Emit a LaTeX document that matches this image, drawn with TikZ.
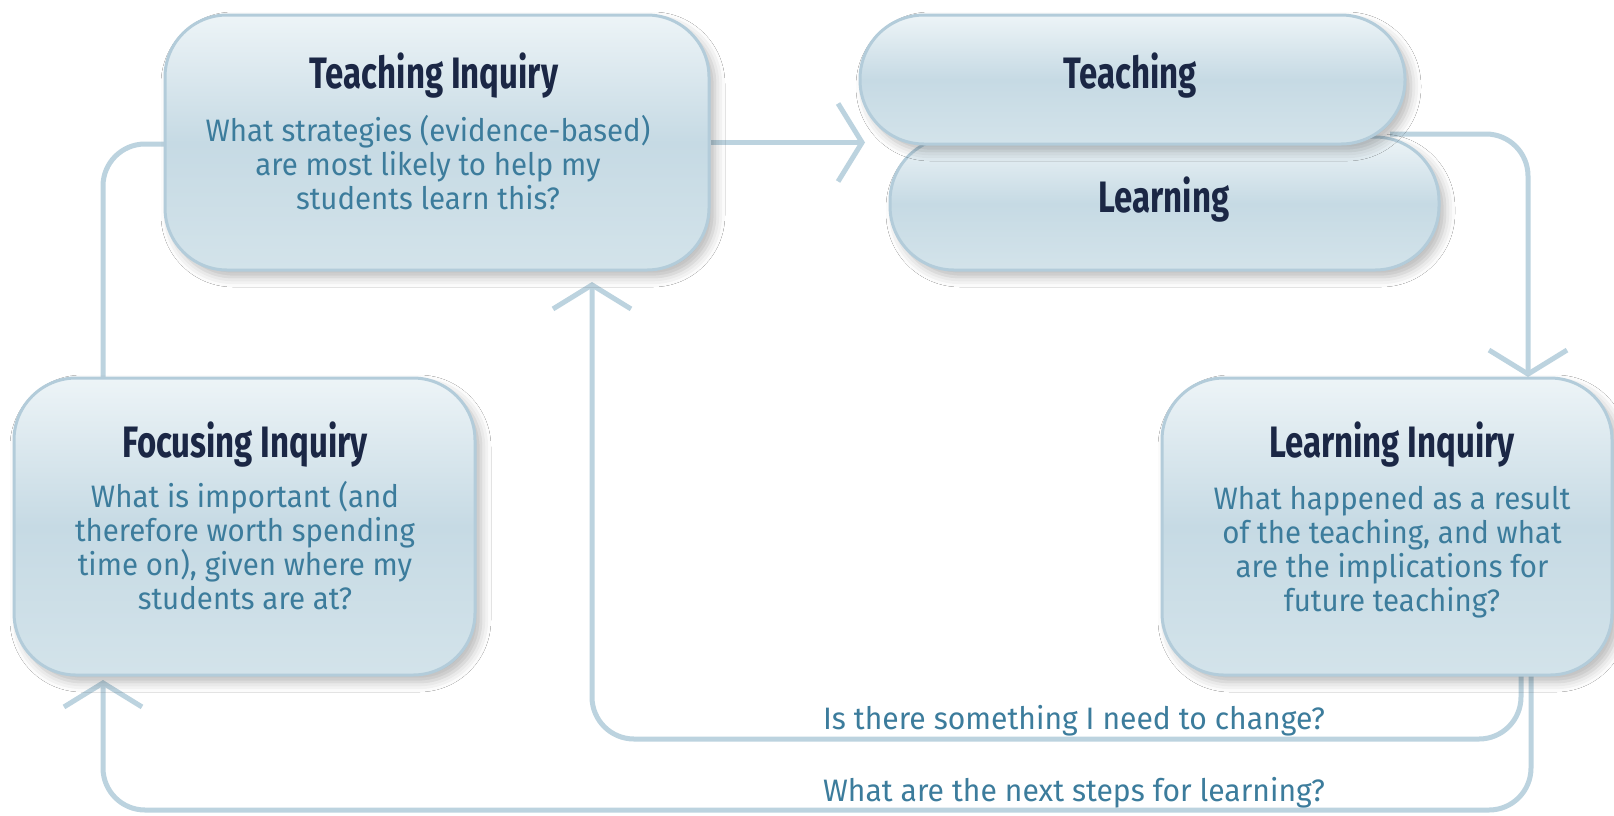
\documentclass[tikz,border=0pt]{standalone}
\usepackage{fontspec}
\setmainfont{Fira Sans}
\newfontfamily\titlefont{Fira Sans}[FakeStretch=0.75]
\newfontfamily\bodyfont{Fira Sans}[FakeStretch=0.95]
\newfontfamily\labelfont{Fira Sans}[FakeStretch=0.97]
\usetikzlibrary{arrows.meta,shadows.blur}
\pgfdeclarelayer{background}
\pgfsetlayers{background,main}
\definecolor{linec}{HTML}{BCD3DF}
\definecolor{boxline}{HTML}{B3CCDA}
\definecolor{boxtop}{HTML}{EDF4F7}
\definecolor{boxmid}{HTML}{C6DAE4}
\definecolor{boxbot}{HTML}{D3E3EA}
\definecolor{titlec}{HTML}{1B2745}
\definecolor{bodyc}{HTML}{3C7C9C}
\tikzset{
  box/.style={rounded corners=62pt, draw=boxline, line width=3pt,
    top color=boxtop, bottom color=boxbot, middle color=boxmid,
    inner sep=0pt,
    blur shadow={shadow xshift=6pt, shadow yshift=-7pt, shadow blur radius=10pt, shadow opacity=28}},
  pill/.style={box, rounded corners=64pt},
  ttl/.style={font=\titlefont\bfseries\fontsize{44}{48}\selectfont, text=titlec, inner sep=0pt},
  bodytxt/.style={font=\bodyfont\fontsize{31}{34}\selectfont, text=bodyc, align=center, inner sep=0pt},
  lbl/.style={font=\labelfont\fontsize{31}{34}\selectfont, text=bodyc, inner sep=0pt},
  conn/.style={draw=linec, line width=5pt, rounded corners=42pt},
  chev/.style={-{Straight Barb[length=24pt,width=78pt]}}
}
\begin{document}
\begin{tikzpicture}[x=1pt,y=-1pt]
\useasboundingbox (0,0) rectangle (1614,815);
% boxes
\node[box, minimum width=544pt, minimum height=255pt] (TI) at (437,142.5) {};
\node[pill, minimum width=549pt, minimum height=133pt] (L) at (1164.5,203.5) {};
\node[pill, minimum width=545pt, minimum height=129pt] (T) at (1132.5,79.5) {};
\node[box, minimum width=461pt, minimum height=297pt] (FI) at (244.5,526.5) {};
\node[box, minimum width=450pt, minimum height=297pt] (LI) at (1387,526.5) {};
% texts
\node[ttl] (TIt) at (434,76) {Teaching Inquiry};
\node[bodytxt] (TIb) at (428,163) {What strategies (evidence-based)\\are most likely to help my\\students learn this?};
\node[ttl] (Tt) at (1130,76) {Teaching};
\node[ttl] (Lt) at (1164,200) {Learning};
\node[ttl] (FIt) at (245,445) {Focusing Inquiry};
\node[bodytxt] (FIb) at (245,546) {What is important (and\\therefore worth spending\\time on), given where my\\students are at?};
\node[ttl] (LIt) at (1392,445) {Learning Inquiry};
\node[bodytxt] (LIb) at (1392,552) {What happened as a result\\of the teaching, and what\\are the implications for\\future teaching?};
\node[lbl] (q1) at (1074,721) {Is there something I need to change?};
\node[lbl] (q2) at (1074,793) {What are the next steps for learning?};
% connector points
\coordinate (a1) at (TI.east);
\coordinate (a2) at (865,142.5);
\coordinate (b1) at (1390,134);
\coordinate (b2) at (1528,134);
\coordinate (b3) at (1528,377);
\coordinate (c1) at (1521,672);
\coordinate (c2) at (1521,739);
\coordinate (c3) at (592,739);
\coordinate (c4) at (592,282);
\coordinate (d1) at (1531,672);
\coordinate (d2) at (1531,810);
\coordinate (d3) at (103,810);
\coordinate (d4) at (103,680);
\coordinate (e1) at (103,380);
\coordinate (e2) at (103,144);
\coordinate (e3) at (168,144);
\begin{pgfonlayer}{background}
\fill[white] (0,0) rectangle (1614,815);
\draw[conn,chev] (a1) -- (a2);
\draw[conn,chev] (b1) -- (b2) -- (b3);
\draw[conn,chev] (c1) -- (c2) -- (c3) -- (c4);
\draw[conn,chev] (d1) -- (d2) -- (d3) -- (d4);
\draw[conn] (e1) -- (e2) -- (e3);
\end{pgfonlayer}
\end{tikzpicture}
\end{document}
